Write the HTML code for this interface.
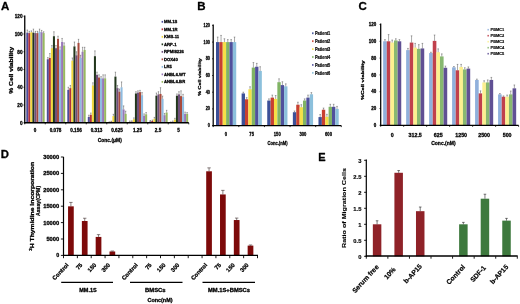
<!DOCTYPE html>
<html><head><meta charset="utf-8"><title>Figure</title>
<style>
html,body{margin:0;padding:0;background:#fff;}
body{width:520px;height:304px;overflow:hidden;font-family:"Liberation Sans",sans-serif;}
svg{display:block;filter:blur(0.4px);}
svg text{font-family:"Liberation Sans",sans-serif;}
</style></head><body>
<svg width="520" height="304" viewBox="0 0 520 304">
<rect x="0" y="0" width="520" height="304" fill="#ffffff"/>
<text x="0.00" y="0" font-size="11.5" font-weight="bold" text-anchor="start" fill="#000" transform="translate(1 9.6)" stroke="#000" stroke-width="0.3" stroke-linejoin="round">A</text>
<text x="0.00" y="0" font-size="11.5" font-weight="bold" text-anchor="start" fill="#000" transform="translate(197.3 9.8)" stroke="#000" stroke-width="0.3" stroke-linejoin="round">B</text>
<text x="0.00" y="0" font-size="11.5" font-weight="bold" text-anchor="start" fill="#000" transform="translate(358.6 9.8)" stroke="#000" stroke-width="0.3" stroke-linejoin="round">C</text>
<text x="0.00" y="0" font-size="11.3" font-weight="bold" text-anchor="start" fill="#000" transform="translate(0.8 158.2)" stroke="#000" stroke-width="0.3" stroke-linejoin="round">D</text>
<text x="0.00" y="0" font-size="11" font-weight="bold" text-anchor="start" fill="#000" transform="translate(318.2 161)" stroke="#000" stroke-width="0.3" stroke-linejoin="round">E</text>
<rect x="26.30" y="32.67" width="2.04" height="90.08" fill="#4c4c9a"/>
<line x1="27.32" y1="32.67" x2="27.32" y2="30.01" stroke="#444" stroke-width="0.45"/>
<line x1="26.62" y1="30.01" x2="28.02" y2="30.01" stroke="#444" stroke-width="0.45"/>
<rect x="28.34" y="33.11" width="2.04" height="89.64" fill="#b0303a"/>
<line x1="29.36" y1="33.11" x2="29.36" y2="31.34" stroke="#444" stroke-width="0.45"/>
<line x1="28.66" y1="31.34" x2="30.06" y2="31.34" stroke="#444" stroke-width="0.45"/>
<rect x="30.38" y="32.23" width="2.04" height="90.52" fill="#f2d93c"/>
<line x1="31.40" y1="32.23" x2="31.40" y2="30.89" stroke="#444" stroke-width="0.45"/>
<line x1="30.70" y1="30.89" x2="32.10" y2="30.89" stroke="#444" stroke-width="0.45"/>
<rect x="32.42" y="32.67" width="2.04" height="90.08" fill="#22361c"/>
<line x1="33.44" y1="32.67" x2="33.44" y2="29.12" stroke="#444" stroke-width="0.45"/>
<line x1="32.74" y1="29.12" x2="34.14" y2="29.12" stroke="#444" stroke-width="0.45"/>
<rect x="34.46" y="33.11" width="2.04" height="89.64" fill="#70507c"/>
<line x1="35.48" y1="33.11" x2="35.48" y2="31.34" stroke="#444" stroke-width="0.45"/>
<line x1="34.78" y1="31.34" x2="36.18" y2="31.34" stroke="#444" stroke-width="0.45"/>
<rect x="36.50" y="33.11" width="2.04" height="89.64" fill="#a84a3c"/>
<line x1="37.52" y1="33.11" x2="37.52" y2="31.34" stroke="#444" stroke-width="0.45"/>
<line x1="36.82" y1="31.34" x2="38.22" y2="31.34" stroke="#444" stroke-width="0.45"/>
<rect x="38.54" y="31.78" width="2.04" height="90.97" fill="#8fbce0"/>
<line x1="39.56" y1="31.78" x2="39.56" y2="29.12" stroke="#444" stroke-width="0.45"/>
<line x1="38.86" y1="29.12" x2="40.26" y2="29.12" stroke="#444" stroke-width="0.45"/>
<rect x="40.58" y="32.23" width="2.04" height="90.52" fill="#9878b8"/>
<line x1="41.60" y1="32.23" x2="41.60" y2="30.45" stroke="#444" stroke-width="0.45"/>
<line x1="40.90" y1="30.45" x2="42.30" y2="30.45" stroke="#444" stroke-width="0.45"/>
<rect x="42.62" y="33.11" width="2.04" height="89.64" fill="#98b860"/>
<line x1="43.64" y1="33.11" x2="43.64" y2="31.78" stroke="#444" stroke-width="0.45"/>
<line x1="42.94" y1="31.78" x2="44.34" y2="31.78" stroke="#444" stroke-width="0.45"/>
<rect x="46.80" y="59.29" width="2.04" height="63.46" fill="#4c4c9a"/>
<line x1="47.82" y1="59.29" x2="47.82" y2="57.52" stroke="#444" stroke-width="0.45"/>
<line x1="47.12" y1="57.52" x2="48.52" y2="57.52" stroke="#444" stroke-width="0.45"/>
<rect x="48.84" y="57.96" width="2.04" height="64.79" fill="#b0303a"/>
<line x1="49.86" y1="57.96" x2="49.86" y2="53.53" stroke="#444" stroke-width="0.45"/>
<line x1="49.16" y1="53.53" x2="50.56" y2="53.53" stroke="#444" stroke-width="0.45"/>
<rect x="50.88" y="48.20" width="2.04" height="74.55" fill="#f2d93c"/>
<line x1="51.90" y1="48.20" x2="51.90" y2="45.54" stroke="#444" stroke-width="0.45"/>
<line x1="51.20" y1="45.54" x2="52.60" y2="45.54" stroke="#444" stroke-width="0.45"/>
<rect x="52.92" y="36.22" width="2.04" height="86.53" fill="#22361c"/>
<line x1="53.94" y1="36.22" x2="53.94" y2="31.78" stroke="#444" stroke-width="0.45"/>
<line x1="53.24" y1="31.78" x2="54.64" y2="31.78" stroke="#444" stroke-width="0.45"/>
<rect x="54.96" y="48.20" width="2.04" height="74.55" fill="#70507c"/>
<line x1="55.98" y1="48.20" x2="55.98" y2="45.54" stroke="#444" stroke-width="0.45"/>
<line x1="55.28" y1="45.54" x2="56.68" y2="45.54" stroke="#444" stroke-width="0.45"/>
<rect x="57.00" y="38.88" width="2.04" height="83.87" fill="#a84a3c"/>
<line x1="58.02" y1="38.88" x2="58.02" y2="36.22" stroke="#444" stroke-width="0.45"/>
<line x1="57.32" y1="36.22" x2="58.72" y2="36.22" stroke="#444" stroke-width="0.45"/>
<rect x="59.04" y="49.53" width="2.04" height="73.22" fill="#8fbce0"/>
<line x1="60.06" y1="49.53" x2="60.06" y2="46.87" stroke="#444" stroke-width="0.45"/>
<line x1="59.36" y1="46.87" x2="60.76" y2="46.87" stroke="#444" stroke-width="0.45"/>
<rect x="61.08" y="41.99" width="2.04" height="80.76" fill="#9878b8"/>
<line x1="62.10" y1="41.99" x2="62.10" y2="38.44" stroke="#444" stroke-width="0.45"/>
<line x1="61.40" y1="38.44" x2="62.80" y2="38.44" stroke="#444" stroke-width="0.45"/>
<rect x="63.12" y="45.54" width="2.04" height="77.21" fill="#98b860"/>
<line x1="64.14" y1="45.54" x2="64.14" y2="42.88" stroke="#444" stroke-width="0.45"/>
<line x1="63.44" y1="42.88" x2="64.84" y2="42.88" stroke="#444" stroke-width="0.45"/>
<rect x="67.30" y="89.91" width="2.04" height="32.84" fill="#4c4c9a"/>
<line x1="68.32" y1="89.91" x2="68.32" y2="87.25" stroke="#444" stroke-width="0.45"/>
<line x1="67.62" y1="87.25" x2="69.02" y2="87.25" stroke="#444" stroke-width="0.45"/>
<rect x="69.34" y="88.14" width="2.04" height="34.61" fill="#b0303a"/>
<line x1="70.36" y1="88.14" x2="70.36" y2="85.48" stroke="#444" stroke-width="0.45"/>
<line x1="69.66" y1="85.48" x2="71.06" y2="85.48" stroke="#444" stroke-width="0.45"/>
<rect x="71.38" y="60.62" width="2.04" height="62.12" fill="#f2d93c"/>
<line x1="72.40" y1="60.62" x2="72.40" y2="57.96" stroke="#444" stroke-width="0.45"/>
<line x1="71.70" y1="57.96" x2="73.10" y2="57.96" stroke="#444" stroke-width="0.45"/>
<rect x="73.42" y="46.42" width="2.04" height="76.33" fill="#22361c"/>
<line x1="74.44" y1="46.42" x2="74.44" y2="41.99" stroke="#444" stroke-width="0.45"/>
<line x1="73.74" y1="41.99" x2="75.14" y2="41.99" stroke="#444" stroke-width="0.45"/>
<rect x="75.46" y="55.30" width="2.04" height="67.45" fill="#70507c"/>
<line x1="76.48" y1="55.30" x2="76.48" y2="51.75" stroke="#444" stroke-width="0.45"/>
<line x1="75.78" y1="51.75" x2="77.18" y2="51.75" stroke="#444" stroke-width="0.45"/>
<rect x="77.50" y="42.88" width="2.04" height="79.88" fill="#a84a3c"/>
<line x1="78.52" y1="42.88" x2="78.52" y2="39.33" stroke="#444" stroke-width="0.45"/>
<line x1="77.82" y1="39.33" x2="79.22" y2="39.33" stroke="#444" stroke-width="0.45"/>
<rect x="79.54" y="57.96" width="2.04" height="64.79" fill="#8fbce0"/>
<line x1="80.56" y1="57.96" x2="80.56" y2="55.30" stroke="#444" stroke-width="0.45"/>
<line x1="79.86" y1="55.30" x2="81.26" y2="55.30" stroke="#444" stroke-width="0.45"/>
<rect x="81.58" y="51.75" width="2.04" height="71.00" fill="#9878b8"/>
<line x1="82.60" y1="51.75" x2="82.60" y2="47.31" stroke="#444" stroke-width="0.45"/>
<line x1="81.90" y1="47.31" x2="83.30" y2="47.31" stroke="#444" stroke-width="0.45"/>
<rect x="83.62" y="49.98" width="2.04" height="72.77" fill="#98b860"/>
<line x1="84.64" y1="49.98" x2="84.64" y2="47.31" stroke="#444" stroke-width="0.45"/>
<line x1="83.94" y1="47.31" x2="85.34" y2="47.31" stroke="#444" stroke-width="0.45"/>
<rect x="87.80" y="116.98" width="2.04" height="5.77" fill="#4c4c9a"/>
<line x1="88.82" y1="116.98" x2="88.82" y2="115.21" stroke="#444" stroke-width="0.45"/>
<line x1="88.12" y1="115.21" x2="89.52" y2="115.21" stroke="#444" stroke-width="0.45"/>
<rect x="89.84" y="114.76" width="2.04" height="7.99" fill="#b0303a"/>
<line x1="90.86" y1="114.76" x2="90.86" y2="112.99" stroke="#444" stroke-width="0.45"/>
<line x1="90.16" y1="112.99" x2="91.56" y2="112.99" stroke="#444" stroke-width="0.45"/>
<rect x="91.88" y="85.47" width="2.04" height="37.27" fill="#f2d93c"/>
<line x1="92.90" y1="85.47" x2="92.90" y2="82.81" stroke="#444" stroke-width="0.45"/>
<line x1="92.20" y1="82.81" x2="93.60" y2="82.81" stroke="#444" stroke-width="0.45"/>
<rect x="93.92" y="56.19" width="2.04" height="66.56" fill="#22361c"/>
<line x1="94.94" y1="56.19" x2="94.94" y2="50.86" stroke="#444" stroke-width="0.45"/>
<line x1="94.24" y1="50.86" x2="95.64" y2="50.86" stroke="#444" stroke-width="0.45"/>
<rect x="95.96" y="74.83" width="2.04" height="47.92" fill="#70507c"/>
<line x1="96.98" y1="74.83" x2="96.98" y2="72.16" stroke="#444" stroke-width="0.45"/>
<line x1="96.28" y1="72.16" x2="97.68" y2="72.16" stroke="#444" stroke-width="0.45"/>
<rect x="98.00" y="77.49" width="2.04" height="45.26" fill="#a84a3c"/>
<line x1="99.02" y1="77.49" x2="99.02" y2="74.83" stroke="#444" stroke-width="0.45"/>
<line x1="98.32" y1="74.83" x2="99.72" y2="74.83" stroke="#444" stroke-width="0.45"/>
<rect x="100.04" y="78.38" width="2.04" height="44.38" fill="#8fbce0"/>
<line x1="101.06" y1="78.38" x2="101.06" y2="76.60" stroke="#444" stroke-width="0.45"/>
<line x1="100.36" y1="76.60" x2="101.76" y2="76.60" stroke="#444" stroke-width="0.45"/>
<rect x="102.08" y="78.38" width="2.04" height="44.38" fill="#9878b8"/>
<line x1="103.10" y1="78.38" x2="103.10" y2="74.83" stroke="#444" stroke-width="0.45"/>
<line x1="102.40" y1="74.83" x2="103.80" y2="74.83" stroke="#444" stroke-width="0.45"/>
<rect x="104.12" y="78.38" width="2.04" height="44.38" fill="#98b860"/>
<line x1="105.14" y1="78.38" x2="105.14" y2="74.83" stroke="#444" stroke-width="0.45"/>
<line x1="104.44" y1="74.83" x2="105.84" y2="74.83" stroke="#444" stroke-width="0.45"/>
<rect x="108.30" y="122.31" width="2.04" height="0.44" fill="#4c4c9a"/>
<line x1="109.32" y1="122.31" x2="109.32" y2="121.86" stroke="#444" stroke-width="0.45"/>
<line x1="108.62" y1="121.86" x2="110.02" y2="121.86" stroke="#444" stroke-width="0.45"/>
<rect x="110.34" y="121.69" width="2.04" height="1.06" fill="#b0303a"/>
<line x1="111.36" y1="121.69" x2="111.36" y2="121.24" stroke="#444" stroke-width="0.45"/>
<line x1="110.66" y1="121.24" x2="112.06" y2="121.24" stroke="#444" stroke-width="0.45"/>
<rect x="112.38" y="116.09" width="2.04" height="6.66" fill="#f2d93c"/>
<line x1="113.40" y1="116.09" x2="113.40" y2="114.32" stroke="#444" stroke-width="0.45"/>
<line x1="112.70" y1="114.32" x2="114.10" y2="114.32" stroke="#444" stroke-width="0.45"/>
<rect x="114.42" y="76.60" width="2.04" height="46.15" fill="#22361c"/>
<line x1="115.44" y1="76.60" x2="115.44" y2="72.16" stroke="#444" stroke-width="0.45"/>
<line x1="114.74" y1="72.16" x2="116.14" y2="72.16" stroke="#444" stroke-width="0.45"/>
<rect x="116.46" y="88.14" width="2.04" height="34.61" fill="#70507c"/>
<line x1="117.48" y1="88.14" x2="117.48" y2="85.48" stroke="#444" stroke-width="0.45"/>
<line x1="116.78" y1="85.48" x2="118.18" y2="85.48" stroke="#444" stroke-width="0.45"/>
<rect x="118.50" y="91.69" width="2.04" height="31.06" fill="#a84a3c"/>
<line x1="119.52" y1="91.69" x2="119.52" y2="89.03" stroke="#444" stroke-width="0.45"/>
<line x1="118.82" y1="89.03" x2="120.22" y2="89.03" stroke="#444" stroke-width="0.45"/>
<rect x="120.54" y="87.25" width="2.04" height="35.50" fill="#8fbce0"/>
<line x1="121.56" y1="87.25" x2="121.56" y2="81.92" stroke="#444" stroke-width="0.45"/>
<line x1="120.86" y1="81.92" x2="122.26" y2="81.92" stroke="#444" stroke-width="0.45"/>
<rect x="122.58" y="109.44" width="2.04" height="13.31" fill="#9878b8"/>
<line x1="123.60" y1="109.44" x2="123.60" y2="105.89" stroke="#444" stroke-width="0.45"/>
<line x1="122.90" y1="105.89" x2="124.30" y2="105.89" stroke="#444" stroke-width="0.45"/>
<rect x="124.62" y="113.88" width="2.04" height="8.88" fill="#98b860"/>
<line x1="125.64" y1="113.88" x2="125.64" y2="111.21" stroke="#444" stroke-width="0.45"/>
<line x1="124.94" y1="111.21" x2="126.34" y2="111.21" stroke="#444" stroke-width="0.45"/>
<rect x="128.80" y="121.86" width="2.04" height="0.89" fill="#4c4c9a"/>
<line x1="129.82" y1="121.86" x2="129.82" y2="120.97" stroke="#444" stroke-width="0.45"/>
<line x1="129.12" y1="120.97" x2="130.52" y2="120.97" stroke="#444" stroke-width="0.45"/>
<rect x="130.84" y="121.69" width="2.04" height="1.06" fill="#b0303a"/>
<line x1="131.86" y1="121.69" x2="131.86" y2="120.80" stroke="#444" stroke-width="0.45"/>
<line x1="131.16" y1="120.80" x2="132.56" y2="120.80" stroke="#444" stroke-width="0.45"/>
<rect x="132.88" y="119.20" width="2.04" height="3.55" fill="#f2d93c"/>
<line x1="133.90" y1="119.20" x2="133.90" y2="117.87" stroke="#444" stroke-width="0.45"/>
<line x1="133.20" y1="117.87" x2="134.60" y2="117.87" stroke="#444" stroke-width="0.45"/>
<rect x="134.92" y="93.46" width="2.04" height="29.29" fill="#22361c"/>
<line x1="135.94" y1="93.46" x2="135.94" y2="91.69" stroke="#444" stroke-width="0.45"/>
<line x1="135.24" y1="91.69" x2="136.64" y2="91.69" stroke="#444" stroke-width="0.45"/>
<rect x="136.96" y="92.58" width="2.04" height="30.17" fill="#70507c"/>
<line x1="137.98" y1="92.58" x2="137.98" y2="90.80" stroke="#444" stroke-width="0.45"/>
<line x1="137.28" y1="90.80" x2="138.68" y2="90.80" stroke="#444" stroke-width="0.45"/>
<rect x="139.00" y="92.13" width="2.04" height="30.62" fill="#a84a3c"/>
<line x1="140.02" y1="92.13" x2="140.02" y2="90.36" stroke="#444" stroke-width="0.45"/>
<line x1="139.32" y1="90.36" x2="140.72" y2="90.36" stroke="#444" stroke-width="0.45"/>
<rect x="141.04" y="95.24" width="2.04" height="27.51" fill="#8fbce0"/>
<line x1="142.06" y1="95.24" x2="142.06" y2="92.58" stroke="#444" stroke-width="0.45"/>
<line x1="141.36" y1="92.58" x2="142.76" y2="92.58" stroke="#444" stroke-width="0.45"/>
<rect x="143.08" y="115.65" width="2.04" height="7.10" fill="#9878b8"/>
<line x1="144.10" y1="115.65" x2="144.10" y2="113.88" stroke="#444" stroke-width="0.45"/>
<line x1="143.40" y1="113.88" x2="144.80" y2="113.88" stroke="#444" stroke-width="0.45"/>
<rect x="145.12" y="114.32" width="2.04" height="8.43" fill="#98b860"/>
<line x1="146.14" y1="114.32" x2="146.14" y2="112.54" stroke="#444" stroke-width="0.45"/>
<line x1="145.44" y1="112.54" x2="146.84" y2="112.54" stroke="#444" stroke-width="0.45"/>
<rect x="149.30" y="121.42" width="2.04" height="1.33" fill="#4c4c9a"/>
<line x1="150.32" y1="121.42" x2="150.32" y2="120.53" stroke="#444" stroke-width="0.45"/>
<line x1="149.62" y1="120.53" x2="151.02" y2="120.53" stroke="#444" stroke-width="0.45"/>
<rect x="151.34" y="120.97" width="2.04" height="1.77" fill="#b0303a"/>
<line x1="152.36" y1="120.97" x2="152.36" y2="120.09" stroke="#444" stroke-width="0.45"/>
<line x1="151.66" y1="120.09" x2="153.06" y2="120.09" stroke="#444" stroke-width="0.45"/>
<rect x="153.38" y="118.76" width="2.04" height="3.99" fill="#f2d93c"/>
<line x1="154.40" y1="118.76" x2="154.40" y2="117.42" stroke="#444" stroke-width="0.45"/>
<line x1="153.70" y1="117.42" x2="155.10" y2="117.42" stroke="#444" stroke-width="0.45"/>
<rect x="155.42" y="95.68" width="2.04" height="27.07" fill="#22361c"/>
<line x1="156.44" y1="95.68" x2="156.44" y2="93.02" stroke="#444" stroke-width="0.45"/>
<line x1="155.74" y1="93.02" x2="157.14" y2="93.02" stroke="#444" stroke-width="0.45"/>
<rect x="157.46" y="94.35" width="2.04" height="28.40" fill="#70507c"/>
<line x1="158.48" y1="94.35" x2="158.48" y2="91.69" stroke="#444" stroke-width="0.45"/>
<line x1="157.78" y1="91.69" x2="159.18" y2="91.69" stroke="#444" stroke-width="0.45"/>
<rect x="159.50" y="93.91" width="2.04" height="28.84" fill="#a84a3c"/>
<line x1="160.52" y1="93.91" x2="160.52" y2="87.69" stroke="#444" stroke-width="0.45"/>
<line x1="159.82" y1="87.69" x2="161.22" y2="87.69" stroke="#444" stroke-width="0.45"/>
<rect x="161.54" y="98.79" width="2.04" height="23.96" fill="#8fbce0"/>
<line x1="162.56" y1="98.79" x2="162.56" y2="96.12" stroke="#444" stroke-width="0.45"/>
<line x1="161.86" y1="96.12" x2="163.26" y2="96.12" stroke="#444" stroke-width="0.45"/>
<rect x="163.58" y="115.21" width="2.04" height="7.54" fill="#9878b8"/>
<line x1="164.60" y1="115.21" x2="164.60" y2="113.43" stroke="#444" stroke-width="0.45"/>
<line x1="163.90" y1="113.43" x2="165.30" y2="113.43" stroke="#444" stroke-width="0.45"/>
<rect x="165.62" y="112.54" width="2.04" height="10.21" fill="#98b860"/>
<line x1="166.64" y1="112.54" x2="166.64" y2="110.33" stroke="#444" stroke-width="0.45"/>
<line x1="165.94" y1="110.33" x2="167.34" y2="110.33" stroke="#444" stroke-width="0.45"/>
<rect x="169.80" y="122.31" width="2.04" height="0.44" fill="#4c4c9a"/>
<line x1="170.82" y1="122.31" x2="170.82" y2="121.86" stroke="#444" stroke-width="0.45"/>
<line x1="170.12" y1="121.86" x2="171.52" y2="121.86" stroke="#444" stroke-width="0.45"/>
<rect x="171.84" y="121.86" width="2.04" height="0.89" fill="#b0303a"/>
<line x1="172.86" y1="121.86" x2="172.86" y2="120.97" stroke="#444" stroke-width="0.45"/>
<line x1="172.16" y1="120.97" x2="173.56" y2="120.97" stroke="#444" stroke-width="0.45"/>
<rect x="173.88" y="119.64" width="2.04" height="3.11" fill="#f2d93c"/>
<line x1="174.90" y1="119.64" x2="174.90" y2="118.31" stroke="#444" stroke-width="0.45"/>
<line x1="174.20" y1="118.31" x2="175.60" y2="118.31" stroke="#444" stroke-width="0.45"/>
<rect x="175.92" y="95.68" width="2.04" height="27.07" fill="#22361c"/>
<line x1="176.94" y1="95.68" x2="176.94" y2="93.91" stroke="#444" stroke-width="0.45"/>
<line x1="176.24" y1="93.91" x2="177.64" y2="93.91" stroke="#444" stroke-width="0.45"/>
<rect x="177.96" y="94.35" width="2.04" height="28.40" fill="#70507c"/>
<line x1="178.98" y1="94.35" x2="178.98" y2="91.69" stroke="#444" stroke-width="0.45"/>
<line x1="178.28" y1="91.69" x2="179.68" y2="91.69" stroke="#444" stroke-width="0.45"/>
<rect x="180.00" y="96.12" width="2.04" height="26.62" fill="#a84a3c"/>
<line x1="181.02" y1="96.12" x2="181.02" y2="90.80" stroke="#444" stroke-width="0.45"/>
<line x1="180.32" y1="90.80" x2="181.72" y2="90.80" stroke="#444" stroke-width="0.45"/>
<rect x="182.04" y="97.01" width="2.04" height="25.74" fill="#8fbce0"/>
<line x1="183.06" y1="97.01" x2="183.06" y2="94.35" stroke="#444" stroke-width="0.45"/>
<line x1="182.36" y1="94.35" x2="183.76" y2="94.35" stroke="#444" stroke-width="0.45"/>
<rect x="184.08" y="113.88" width="2.04" height="8.88" fill="#9878b8"/>
<line x1="185.10" y1="113.88" x2="185.10" y2="112.10" stroke="#444" stroke-width="0.45"/>
<line x1="184.40" y1="112.10" x2="185.80" y2="112.10" stroke="#444" stroke-width="0.45"/>
<rect x="186.12" y="113.88" width="2.04" height="8.88" fill="#98b860"/>
<line x1="187.14" y1="113.88" x2="187.14" y2="112.54" stroke="#444" stroke-width="0.45"/>
<line x1="186.44" y1="112.54" x2="187.84" y2="112.54" stroke="#444" stroke-width="0.45"/>
<line x1="24.75" y1="15.40" x2="24.75" y2="123.35" stroke="#000" stroke-width="1.3"/>
<line x1="24.25" y1="122.75" x2="188.75" y2="122.75" stroke="#000" stroke-width="1.35"/>
<line x1="23.45" y1="122.75" x2="24.75" y2="122.75" stroke="#000" stroke-width="0.7"/>
<text x="0.00" y="0" font-size="4.7" font-weight="bold" text-anchor="end" fill="#000" transform="translate(22.5 124.5)" stroke="#000" stroke-width="0.28" stroke-linejoin="round">0</text>
<line x1="23.45" y1="105.00" x2="24.75" y2="105.00" stroke="#000" stroke-width="0.7"/>
<text x="0.00" y="0" font-size="4.7" font-weight="bold" text-anchor="end" fill="#000" transform="translate(22.5 106.75)" stroke="#000" stroke-width="0.28" stroke-linejoin="round">20</text>
<line x1="23.45" y1="87.25" x2="24.75" y2="87.25" stroke="#000" stroke-width="0.7"/>
<text x="0.00" y="0" font-size="4.7" font-weight="bold" text-anchor="end" fill="#000" transform="translate(22.5 89.0)" stroke="#000" stroke-width="0.28" stroke-linejoin="round">40</text>
<line x1="23.45" y1="69.50" x2="24.75" y2="69.50" stroke="#000" stroke-width="0.7"/>
<text x="0.00" y="0" font-size="4.7" font-weight="bold" text-anchor="end" fill="#000" transform="translate(22.5 71.25)" stroke="#000" stroke-width="0.28" stroke-linejoin="round">60</text>
<line x1="23.45" y1="51.75" x2="24.75" y2="51.75" stroke="#000" stroke-width="0.7"/>
<text x="0.00" y="0" font-size="4.7" font-weight="bold" text-anchor="end" fill="#000" transform="translate(22.5 53.5)" stroke="#000" stroke-width="0.28" stroke-linejoin="round">80</text>
<line x1="23.45" y1="34.00" x2="24.75" y2="34.00" stroke="#000" stroke-width="0.7"/>
<text x="0.00" y="0" font-size="4.7" font-weight="bold" text-anchor="end" fill="#000" transform="translate(22.5 35.75)" stroke="#000" stroke-width="0.28" stroke-linejoin="round">100</text>
<line x1="23.45" y1="16.25" x2="24.75" y2="16.25" stroke="#000" stroke-width="0.7"/>
<text x="0.00" y="0" font-size="4.7" font-weight="bold" text-anchor="end" fill="#000" transform="translate(22.5 18.0)" stroke="#000" stroke-width="0.28" stroke-linejoin="round">120</text>
<line x1="24.75" y1="122.75" x2="24.75" y2="124.35" stroke="#000" stroke-width="0.8"/>
<line x1="45.25" y1="122.75" x2="45.25" y2="124.35" stroke="#000" stroke-width="0.8"/>
<line x1="65.75" y1="122.75" x2="65.75" y2="124.35" stroke="#000" stroke-width="0.8"/>
<line x1="86.25" y1="122.75" x2="86.25" y2="124.35" stroke="#000" stroke-width="0.8"/>
<line x1="106.75" y1="122.75" x2="106.75" y2="124.35" stroke="#000" stroke-width="0.8"/>
<line x1="127.25" y1="122.75" x2="127.25" y2="124.35" stroke="#000" stroke-width="0.8"/>
<line x1="147.75" y1="122.75" x2="147.75" y2="124.35" stroke="#000" stroke-width="0.8"/>
<line x1="168.25" y1="122.75" x2="168.25" y2="124.35" stroke="#000" stroke-width="0.8"/>
<line x1="188.75" y1="122.75" x2="188.75" y2="124.35" stroke="#000" stroke-width="0.8"/>
<text x="0.00" y="0" font-size="4.6" font-weight="bold" text-anchor="middle" fill="#000" transform="translate(35.0 131.7)" stroke="#000" stroke-width="0.28" stroke-linejoin="round">0</text>
<text x="0.00" y="0" font-size="4.6" font-weight="bold" text-anchor="middle" fill="#000" transform="translate(55.5 131.7)" stroke="#000" stroke-width="0.28" stroke-linejoin="round">0.078</text>
<text x="0.00" y="0" font-size="4.6" font-weight="bold" text-anchor="middle" fill="#000" transform="translate(76.0 131.7)" stroke="#000" stroke-width="0.28" stroke-linejoin="round">0.156</text>
<text x="0.00" y="0" font-size="4.6" font-weight="bold" text-anchor="middle" fill="#000" transform="translate(96.5 131.7)" stroke="#000" stroke-width="0.28" stroke-linejoin="round">0.313</text>
<text x="0.00" y="0" font-size="4.6" font-weight="bold" text-anchor="middle" fill="#000" transform="translate(117.0 131.7)" stroke="#000" stroke-width="0.28" stroke-linejoin="round">0.625</text>
<text x="0.00" y="0" font-size="4.6" font-weight="bold" text-anchor="middle" fill="#000" transform="translate(137.5 131.7)" stroke="#000" stroke-width="0.28" stroke-linejoin="round">1.25</text>
<text x="0.00" y="0" font-size="4.6" font-weight="bold" text-anchor="middle" fill="#000" transform="translate(158.0 131.7)" stroke="#000" stroke-width="0.28" stroke-linejoin="round">2.5</text>
<text x="0.00" y="0" font-size="4.6" font-weight="bold" text-anchor="middle" fill="#000" transform="translate(178.5 131.7)" stroke="#000" stroke-width="0.28" stroke-linejoin="round">5</text>
<text x="-12.00" y="0" font-size="5.2" font-weight="bold" text-anchor="start" fill="#000" textLength="24" lengthAdjust="spacingAndGlyphs" transform="translate(109.8 141.7)" stroke="#000" stroke-width="0.28" stroke-linejoin="round">Conc.(μM)</text>
<text x="-23.40" y="0" font-size="5.6" font-weight="bold" text-anchor="start" fill="#000" textLength="46.8" lengthAdjust="spacingAndGlyphs" transform="translate(13.2 70.3) rotate(-90)" stroke="#000" stroke-width="0.28" stroke-linejoin="round">% Cell viability</text>
<rect x="161.60" y="20.90" width="1.50" height="1.80" fill="#4c4c9a"/>
<text x="0.00" y="0" font-size="4.2" font-weight="bold" text-anchor="start" fill="#000" transform="translate(164 23.3)" stroke="#000" stroke-width="0.28" stroke-linejoin="round">MM.1S</text>
<rect x="161.60" y="28.41" width="1.50" height="1.80" fill="#b0303a"/>
<text x="0.00" y="0" font-size="4.2" font-weight="bold" text-anchor="start" fill="#000" transform="translate(164 30.81)" stroke="#000" stroke-width="0.28" stroke-linejoin="round">MM.1R</text>
<rect x="161.60" y="35.92" width="1.50" height="1.80" fill="#f2d93c"/>
<text x="0.00" y="0" font-size="4.2" font-weight="bold" text-anchor="start" fill="#000" transform="translate(164 38.32)" stroke="#000" stroke-width="0.28" stroke-linejoin="round">KMS-11</text>
<rect x="161.60" y="43.43" width="1.50" height="1.80" fill="#22361c"/>
<text x="0.00" y="0" font-size="4.2" font-weight="bold" text-anchor="start" fill="#000" transform="translate(164 45.83)" stroke="#000" stroke-width="0.28" stroke-linejoin="round">ARP-1</text>
<rect x="161.60" y="50.94" width="1.50" height="1.80" fill="#70507c"/>
<text x="0.00" y="0" font-size="4.2" font-weight="bold" text-anchor="start" fill="#000" transform="translate(164 53.34)" stroke="#000" stroke-width="0.28" stroke-linejoin="round">RPMI8226</text>
<rect x="161.60" y="58.45" width="1.50" height="1.80" fill="#a84a3c"/>
<text x="0.00" y="0" font-size="4.2" font-weight="bold" text-anchor="start" fill="#000" transform="translate(164 60.85)" stroke="#000" stroke-width="0.28" stroke-linejoin="round">DOX40</text>
<rect x="161.60" y="65.96" width="1.50" height="1.80" fill="#8fbce0"/>
<text x="0.00" y="0" font-size="4.2" font-weight="bold" text-anchor="start" fill="#000" transform="translate(164 68.36)" stroke="#000" stroke-width="0.28" stroke-linejoin="round">LR5</text>
<rect x="161.60" y="73.47" width="1.50" height="1.80" fill="#9878b8"/>
<text x="0.00" y="0" font-size="4.2" font-weight="bold" text-anchor="start" fill="#000" transform="translate(164 75.87)" stroke="#000" stroke-width="0.28" stroke-linejoin="round">ANBL6.WT</text>
<rect x="161.60" y="80.98" width="1.50" height="1.80" fill="#98b860"/>
<text x="0.00" y="0" font-size="4.2" font-weight="bold" text-anchor="start" fill="#000" transform="translate(164 83.38)" stroke="#000" stroke-width="0.28" stroke-linejoin="round">ANBL6.BR</text>
<rect x="216.00" y="42.10" width="3.37" height="83.50" fill="#3c5098"/>
<line x1="217.69" y1="42.10" x2="217.69" y2="37.09" stroke="#444" stroke-width="0.45"/>
<line x1="216.88" y1="37.09" x2="218.49" y2="37.09" stroke="#444" stroke-width="0.45"/>
<rect x="219.37" y="42.10" width="3.37" height="83.50" fill="#c84030"/>
<line x1="221.06" y1="42.10" x2="221.06" y2="35.42" stroke="#444" stroke-width="0.45"/>
<line x1="220.25" y1="35.42" x2="221.86" y2="35.42" stroke="#444" stroke-width="0.45"/>
<rect x="222.74" y="42.10" width="3.37" height="83.50" fill="#f6e048"/>
<line x1="224.43" y1="42.10" x2="224.43" y2="38.76" stroke="#444" stroke-width="0.45"/>
<line x1="223.62" y1="38.76" x2="225.23" y2="38.76" stroke="#444" stroke-width="0.45"/>
<rect x="226.11" y="42.10" width="3.37" height="83.50" fill="#80b464"/>
<line x1="227.80" y1="42.10" x2="227.80" y2="39.60" stroke="#444" stroke-width="0.45"/>
<line x1="227.00" y1="39.60" x2="228.60" y2="39.60" stroke="#444" stroke-width="0.45"/>
<rect x="229.48" y="42.10" width="3.37" height="83.50" fill="#50509c"/>
<line x1="231.16" y1="42.10" x2="231.16" y2="39.60" stroke="#444" stroke-width="0.45"/>
<line x1="230.36" y1="39.60" x2="231.97" y2="39.60" stroke="#444" stroke-width="0.45"/>
<rect x="232.85" y="42.10" width="3.37" height="83.50" fill="#8cc0dc"/>
<line x1="234.53" y1="42.10" x2="234.53" y2="37.09" stroke="#444" stroke-width="0.45"/>
<line x1="233.73" y1="37.09" x2="235.34" y2="37.09" stroke="#444" stroke-width="0.45"/>
<rect x="241.62" y="93.45" width="3.37" height="32.15" fill="#3c5098"/>
<line x1="243.31" y1="93.45" x2="243.31" y2="92.20" stroke="#444" stroke-width="0.45"/>
<line x1="242.50" y1="92.20" x2="244.11" y2="92.20" stroke="#444" stroke-width="0.45"/>
<rect x="244.99" y="99.30" width="3.37" height="26.30" fill="#c84030"/>
<line x1="246.68" y1="99.30" x2="246.68" y2="97.63" stroke="#444" stroke-width="0.45"/>
<line x1="245.88" y1="97.63" x2="247.48" y2="97.63" stroke="#444" stroke-width="0.45"/>
<rect x="248.36" y="89.28" width="3.37" height="36.32" fill="#f6e048"/>
<line x1="250.05" y1="89.28" x2="250.05" y2="86.77" stroke="#444" stroke-width="0.45"/>
<line x1="249.25" y1="86.77" x2="250.85" y2="86.77" stroke="#444" stroke-width="0.45"/>
<rect x="251.73" y="67.57" width="3.37" height="58.03" fill="#80b464"/>
<line x1="253.42" y1="67.57" x2="253.42" y2="62.56" stroke="#444" stroke-width="0.45"/>
<line x1="252.62" y1="62.56" x2="254.22" y2="62.56" stroke="#444" stroke-width="0.45"/>
<rect x="255.10" y="66.73" width="3.37" height="58.87" fill="#50509c"/>
<line x1="256.78" y1="66.73" x2="256.78" y2="63.39" stroke="#444" stroke-width="0.45"/>
<line x1="255.98" y1="63.39" x2="257.58" y2="63.39" stroke="#444" stroke-width="0.45"/>
<rect x="258.47" y="70.91" width="3.37" height="54.69" fill="#8cc0dc"/>
<line x1="260.16" y1="70.91" x2="260.16" y2="66.73" stroke="#444" stroke-width="0.45"/>
<line x1="259.36" y1="66.73" x2="260.96" y2="66.73" stroke="#444" stroke-width="0.45"/>
<rect x="267.24" y="100.55" width="3.37" height="25.05" fill="#3c5098"/>
<line x1="268.93" y1="100.55" x2="268.93" y2="98.88" stroke="#444" stroke-width="0.45"/>
<line x1="268.12" y1="98.88" x2="269.73" y2="98.88" stroke="#444" stroke-width="0.45"/>
<rect x="270.61" y="97.63" width="3.37" height="27.97" fill="#c84030"/>
<line x1="272.30" y1="97.63" x2="272.30" y2="95.12" stroke="#444" stroke-width="0.45"/>
<line x1="271.50" y1="95.12" x2="273.10" y2="95.12" stroke="#444" stroke-width="0.45"/>
<rect x="273.98" y="98.88" width="3.37" height="26.72" fill="#f6e048"/>
<line x1="275.67" y1="98.88" x2="275.67" y2="95.54" stroke="#444" stroke-width="0.45"/>
<line x1="274.87" y1="95.54" x2="276.47" y2="95.54" stroke="#444" stroke-width="0.45"/>
<rect x="277.35" y="82.18" width="3.37" height="43.42" fill="#80b464"/>
<line x1="279.04" y1="82.18" x2="279.04" y2="78.84" stroke="#444" stroke-width="0.45"/>
<line x1="278.24" y1="78.84" x2="279.84" y2="78.84" stroke="#444" stroke-width="0.45"/>
<rect x="280.72" y="85.10" width="3.37" height="40.50" fill="#50509c"/>
<line x1="282.41" y1="85.10" x2="282.41" y2="81.76" stroke="#444" stroke-width="0.45"/>
<line x1="281.61" y1="81.76" x2="283.21" y2="81.76" stroke="#444" stroke-width="0.45"/>
<rect x="284.09" y="86.36" width="3.37" height="39.24" fill="#8cc0dc"/>
<line x1="285.78" y1="86.36" x2="285.78" y2="83.85" stroke="#444" stroke-width="0.45"/>
<line x1="284.98" y1="83.85" x2="286.58" y2="83.85" stroke="#444" stroke-width="0.45"/>
<rect x="292.86" y="112.24" width="3.37" height="13.36" fill="#3c5098"/>
<line x1="294.55" y1="112.24" x2="294.55" y2="110.99" stroke="#444" stroke-width="0.45"/>
<line x1="293.75" y1="110.99" x2="295.35" y2="110.99" stroke="#444" stroke-width="0.45"/>
<rect x="296.23" y="104.72" width="3.37" height="20.87" fill="#c84030"/>
<line x1="297.92" y1="104.72" x2="297.92" y2="102.22" stroke="#444" stroke-width="0.45"/>
<line x1="297.12" y1="102.22" x2="298.72" y2="102.22" stroke="#444" stroke-width="0.45"/>
<rect x="299.60" y="107.23" width="3.37" height="18.37" fill="#f6e048"/>
<line x1="301.29" y1="107.23" x2="301.29" y2="104.72" stroke="#444" stroke-width="0.45"/>
<line x1="300.49" y1="104.72" x2="302.09" y2="104.72" stroke="#444" stroke-width="0.45"/>
<rect x="302.97" y="100.55" width="3.37" height="25.05" fill="#80b464"/>
<line x1="304.66" y1="100.55" x2="304.66" y2="98.88" stroke="#444" stroke-width="0.45"/>
<line x1="303.86" y1="98.88" x2="305.46" y2="98.88" stroke="#444" stroke-width="0.45"/>
<rect x="306.34" y="97.63" width="3.37" height="27.97" fill="#50509c"/>
<line x1="308.03" y1="97.63" x2="308.03" y2="95.12" stroke="#444" stroke-width="0.45"/>
<line x1="307.23" y1="95.12" x2="308.83" y2="95.12" stroke="#444" stroke-width="0.45"/>
<rect x="309.71" y="94.29" width="3.37" height="31.31" fill="#8cc0dc"/>
<line x1="311.40" y1="94.29" x2="311.40" y2="92.62" stroke="#444" stroke-width="0.45"/>
<line x1="310.60" y1="92.62" x2="312.20" y2="92.62" stroke="#444" stroke-width="0.45"/>
<rect x="318.48" y="117.08" width="3.37" height="8.52" fill="#3c5098"/>
<line x1="320.17" y1="117.08" x2="320.17" y2="114.58" stroke="#444" stroke-width="0.45"/>
<line x1="319.37" y1="114.58" x2="320.97" y2="114.58" stroke="#444" stroke-width="0.45"/>
<rect x="321.85" y="109.73" width="3.37" height="15.86" fill="#c84030"/>
<line x1="323.54" y1="109.73" x2="323.54" y2="108.06" stroke="#444" stroke-width="0.45"/>
<line x1="322.74" y1="108.06" x2="324.34" y2="108.06" stroke="#444" stroke-width="0.45"/>
<rect x="325.22" y="116.83" width="3.37" height="8.77" fill="#f6e048"/>
<line x1="326.91" y1="116.83" x2="326.91" y2="114.33" stroke="#444" stroke-width="0.45"/>
<line x1="326.11" y1="114.33" x2="327.71" y2="114.33" stroke="#444" stroke-width="0.45"/>
<rect x="328.59" y="106.81" width="3.37" height="18.79" fill="#80b464"/>
<line x1="330.28" y1="106.81" x2="330.28" y2="104.31" stroke="#444" stroke-width="0.45"/>
<line x1="329.48" y1="104.31" x2="331.08" y2="104.31" stroke="#444" stroke-width="0.45"/>
<rect x="331.96" y="106.81" width="3.37" height="18.79" fill="#50509c"/>
<line x1="333.65" y1="106.81" x2="333.65" y2="104.31" stroke="#444" stroke-width="0.45"/>
<line x1="332.85" y1="104.31" x2="334.45" y2="104.31" stroke="#444" stroke-width="0.45"/>
<rect x="335.33" y="108.90" width="3.37" height="16.70" fill="#8cc0dc"/>
<line x1="337.02" y1="108.90" x2="337.02" y2="106.40" stroke="#444" stroke-width="0.45"/>
<line x1="336.22" y1="106.40" x2="337.82" y2="106.40" stroke="#444" stroke-width="0.45"/>
<line x1="213.20" y1="24.40" x2="213.20" y2="126.20" stroke="#000" stroke-width="1.25"/>
<line x1="212.70" y1="125.60" x2="341.30" y2="125.60" stroke="#000" stroke-width="1.3"/>
<line x1="212.00" y1="125.60" x2="213.20" y2="125.60" stroke="#000" stroke-width="0.7"/>
<text x="-2.15" y="0" font-size="4.8" font-weight="bold" text-anchor="start" fill="#000" textLength="2.15" lengthAdjust="spacingAndGlyphs" transform="translate(210.0 127.0)" stroke="#000" stroke-width="0.28" stroke-linejoin="round">0</text>
<line x1="212.00" y1="108.90" x2="213.20" y2="108.90" stroke="#000" stroke-width="0.7"/>
<text x="-4.30" y="0" font-size="4.8" font-weight="bold" text-anchor="start" fill="#000" textLength="4.3" lengthAdjust="spacingAndGlyphs" transform="translate(210.0 110.3)" stroke="#000" stroke-width="0.28" stroke-linejoin="round">20</text>
<line x1="212.00" y1="92.20" x2="213.20" y2="92.20" stroke="#000" stroke-width="0.7"/>
<text x="-4.30" y="0" font-size="4.8" font-weight="bold" text-anchor="start" fill="#000" textLength="4.3" lengthAdjust="spacingAndGlyphs" transform="translate(210.0 93.6)" stroke="#000" stroke-width="0.28" stroke-linejoin="round">40</text>
<line x1="212.00" y1="75.50" x2="213.20" y2="75.50" stroke="#000" stroke-width="0.7"/>
<text x="-4.30" y="0" font-size="4.8" font-weight="bold" text-anchor="start" fill="#000" textLength="4.3" lengthAdjust="spacingAndGlyphs" transform="translate(210.0 76.9)" stroke="#000" stroke-width="0.28" stroke-linejoin="round">60</text>
<line x1="212.00" y1="58.80" x2="213.20" y2="58.80" stroke="#000" stroke-width="0.7"/>
<text x="-4.30" y="0" font-size="4.8" font-weight="bold" text-anchor="start" fill="#000" textLength="4.3" lengthAdjust="spacingAndGlyphs" transform="translate(210.0 60.2)" stroke="#000" stroke-width="0.28" stroke-linejoin="round">80</text>
<line x1="212.00" y1="42.10" x2="213.20" y2="42.10" stroke="#000" stroke-width="0.7"/>
<text x="-6.45" y="0" font-size="4.8" font-weight="bold" text-anchor="start" fill="#000" textLength="6.45" lengthAdjust="spacingAndGlyphs" transform="translate(210.0 43.5)" stroke="#000" stroke-width="0.28" stroke-linejoin="round">100</text>
<line x1="212.00" y1="25.40" x2="213.20" y2="25.40" stroke="#000" stroke-width="0.7"/>
<text x="-6.45" y="0" font-size="4.8" font-weight="bold" text-anchor="start" fill="#000" textLength="6.45" lengthAdjust="spacingAndGlyphs" transform="translate(210.0 26.8)" stroke="#000" stroke-width="0.28" stroke-linejoin="round">120</text>
<line x1="213.20" y1="125.60" x2="213.20" y2="127.10" stroke="#000" stroke-width="0.8"/>
<line x1="238.82" y1="125.60" x2="238.82" y2="127.10" stroke="#000" stroke-width="0.8"/>
<line x1="264.44" y1="125.60" x2="264.44" y2="127.10" stroke="#000" stroke-width="0.8"/>
<line x1="290.06" y1="125.60" x2="290.06" y2="127.10" stroke="#000" stroke-width="0.8"/>
<line x1="315.68" y1="125.60" x2="315.68" y2="127.10" stroke="#000" stroke-width="0.8"/>
<line x1="341.30" y1="125.60" x2="341.30" y2="127.10" stroke="#000" stroke-width="0.8"/>
<text x="-1.15" y="0" font-size="5.0" font-weight="bold" text-anchor="start" fill="#000" textLength="2.3" lengthAdjust="spacingAndGlyphs" transform="translate(226.01 136.0)" stroke="#000" stroke-width="0.28" stroke-linejoin="round">0</text>
<text x="-2.30" y="0" font-size="5.0" font-weight="bold" text-anchor="start" fill="#000" textLength="4.6" lengthAdjust="spacingAndGlyphs" transform="translate(251.63 136.0)" stroke="#000" stroke-width="0.28" stroke-linejoin="round">75</text>
<text x="-3.45" y="0" font-size="5.0" font-weight="bold" text-anchor="start" fill="#000" textLength="6.9" lengthAdjust="spacingAndGlyphs" transform="translate(277.25 136.0)" stroke="#000" stroke-width="0.28" stroke-linejoin="round">150</text>
<text x="-3.45" y="0" font-size="5.0" font-weight="bold" text-anchor="start" fill="#000" textLength="6.9" lengthAdjust="spacingAndGlyphs" transform="translate(302.87 136.0)" stroke="#000" stroke-width="0.28" stroke-linejoin="round">300</text>
<text x="-3.45" y="0" font-size="5.0" font-weight="bold" text-anchor="start" fill="#000" textLength="6.9" lengthAdjust="spacingAndGlyphs" transform="translate(328.49 136.0)" stroke="#000" stroke-width="0.28" stroke-linejoin="round">600</text>
<text x="-10.00" y="0" font-size="5.0" font-weight="bold" text-anchor="start" fill="#000" textLength="20" lengthAdjust="spacingAndGlyphs" transform="translate(277.5 145.1)" stroke="#000" stroke-width="0.28" stroke-linejoin="round">Conc.(nM)</text>
<text x="-18.75" y="0" font-size="4.4" font-weight="bold" text-anchor="start" fill="#000" textLength="37.5" lengthAdjust="spacingAndGlyphs" transform="translate(201.3 76.9) rotate(-90)" stroke="#000" stroke-width="0.28" stroke-linejoin="round">% Cell viability</text>
<rect x="312.10" y="32.35" width="1.40" height="1.80" fill="#3c5098"/>
<text x="0.00" y="0" font-size="5.1" font-weight="bold" text-anchor="start" fill="#000" textLength="15.3" lengthAdjust="spacingAndGlyphs" transform="translate(315 35.05)" stroke="#000" stroke-width="0.2" stroke-linejoin="round">Patient1</text>
<rect x="312.10" y="40.27" width="1.40" height="1.80" fill="#c84030"/>
<text x="0.00" y="0" font-size="5.1" font-weight="bold" text-anchor="start" fill="#000" textLength="15.3" lengthAdjust="spacingAndGlyphs" transform="translate(315 42.97)" stroke="#000" stroke-width="0.2" stroke-linejoin="round">Patient2</text>
<rect x="312.10" y="48.19" width="1.40" height="1.80" fill="#f6e048"/>
<text x="0.00" y="0" font-size="5.1" font-weight="bold" text-anchor="start" fill="#000" textLength="15.3" lengthAdjust="spacingAndGlyphs" transform="translate(315 50.89)" stroke="#000" stroke-width="0.2" stroke-linejoin="round">Patient3</text>
<rect x="312.10" y="56.11" width="1.40" height="1.80" fill="#80b464"/>
<text x="0.00" y="0" font-size="5.1" font-weight="bold" text-anchor="start" fill="#000" textLength="15.3" lengthAdjust="spacingAndGlyphs" transform="translate(315 58.81)" stroke="#000" stroke-width="0.2" stroke-linejoin="round">Patient4</text>
<rect x="312.10" y="64.03" width="1.40" height="1.80" fill="#50509c"/>
<text x="0.00" y="0" font-size="5.1" font-weight="bold" text-anchor="start" fill="#000" textLength="15.3" lengthAdjust="spacingAndGlyphs" transform="translate(315 66.73)" stroke="#000" stroke-width="0.2" stroke-linejoin="round">Patient5</text>
<rect x="312.10" y="71.95" width="1.40" height="1.80" fill="#8cc0dc"/>
<text x="0.00" y="0" font-size="5.1" font-weight="bold" text-anchor="start" fill="#000" textLength="15.3" lengthAdjust="spacingAndGlyphs" transform="translate(315 74.65)" stroke="#000" stroke-width="0.2" stroke-linejoin="round">Patient6</text>
<rect x="383.15" y="41.30" width="3.62" height="84.00" fill="#90b0dc"/>
<line x1="384.96" y1="41.30" x2="384.96" y2="39.62" stroke="#444" stroke-width="0.45"/>
<line x1="384.16" y1="39.62" x2="385.76" y2="39.62" stroke="#444" stroke-width="0.45"/>
<rect x="386.77" y="41.30" width="3.62" height="84.00" fill="#c0404c"/>
<line x1="388.58" y1="41.30" x2="388.58" y2="34.58" stroke="#444" stroke-width="0.45"/>
<line x1="387.78" y1="34.58" x2="389.38" y2="34.58" stroke="#444" stroke-width="0.45"/>
<rect x="390.39" y="42.56" width="3.62" height="82.74" fill="#fcf090"/>
<line x1="392.20" y1="42.56" x2="392.20" y2="40.04" stroke="#444" stroke-width="0.45"/>
<line x1="391.40" y1="40.04" x2="393.00" y2="40.04" stroke="#444" stroke-width="0.45"/>
<rect x="394.01" y="40.46" width="3.62" height="84.84" fill="#88b870"/>
<line x1="395.82" y1="40.46" x2="395.82" y2="38.78" stroke="#444" stroke-width="0.45"/>
<line x1="395.02" y1="38.78" x2="396.62" y2="38.78" stroke="#444" stroke-width="0.45"/>
<rect x="397.63" y="41.30" width="3.62" height="84.00" fill="#605094"/>
<line x1="399.44" y1="41.30" x2="399.44" y2="39.62" stroke="#444" stroke-width="0.45"/>
<line x1="398.64" y1="39.62" x2="400.24" y2="39.62" stroke="#444" stroke-width="0.45"/>
<rect x="406.13" y="50.12" width="3.62" height="75.18" fill="#90b0dc"/>
<line x1="407.94" y1="50.12" x2="407.94" y2="48.44" stroke="#444" stroke-width="0.45"/>
<line x1="407.14" y1="48.44" x2="408.74" y2="48.44" stroke="#444" stroke-width="0.45"/>
<rect x="409.75" y="42.56" width="3.62" height="82.74" fill="#c0404c"/>
<line x1="411.56" y1="42.56" x2="411.56" y2="35.84" stroke="#444" stroke-width="0.45"/>
<line x1="410.76" y1="35.84" x2="412.36" y2="35.84" stroke="#444" stroke-width="0.45"/>
<rect x="413.37" y="47.60" width="3.62" height="77.70" fill="#fcf090"/>
<line x1="415.18" y1="47.60" x2="415.18" y2="43.40" stroke="#444" stroke-width="0.45"/>
<line x1="414.38" y1="43.40" x2="415.98" y2="43.40" stroke="#444" stroke-width="0.45"/>
<rect x="416.99" y="48.86" width="3.62" height="76.44" fill="#88b870"/>
<line x1="418.80" y1="48.86" x2="418.80" y2="44.66" stroke="#444" stroke-width="0.45"/>
<line x1="418.00" y1="44.66" x2="419.60" y2="44.66" stroke="#444" stroke-width="0.45"/>
<rect x="420.61" y="48.44" width="3.62" height="76.86" fill="#605094"/>
<line x1="422.42" y1="48.44" x2="422.42" y2="43.40" stroke="#444" stroke-width="0.45"/>
<line x1="421.62" y1="43.40" x2="423.22" y2="43.40" stroke="#444" stroke-width="0.45"/>
<rect x="429.12" y="53.06" width="3.62" height="72.24" fill="#90b0dc"/>
<line x1="430.93" y1="53.06" x2="430.93" y2="52.22" stroke="#444" stroke-width="0.45"/>
<line x1="430.13" y1="52.22" x2="431.73" y2="52.22" stroke="#444" stroke-width="0.45"/>
<rect x="432.74" y="40.88" width="3.62" height="84.42" fill="#c0404c"/>
<line x1="434.55" y1="40.88" x2="434.55" y2="35.00" stroke="#444" stroke-width="0.45"/>
<line x1="433.75" y1="35.00" x2="435.35" y2="35.00" stroke="#444" stroke-width="0.45"/>
<rect x="436.36" y="52.22" width="3.62" height="73.08" fill="#fcf090"/>
<line x1="438.17" y1="52.22" x2="438.17" y2="48.86" stroke="#444" stroke-width="0.45"/>
<line x1="437.37" y1="48.86" x2="438.97" y2="48.86" stroke="#444" stroke-width="0.45"/>
<rect x="439.98" y="56.42" width="3.62" height="68.88" fill="#88b870"/>
<line x1="441.79" y1="56.42" x2="441.79" y2="53.90" stroke="#444" stroke-width="0.45"/>
<line x1="440.99" y1="53.90" x2="442.59" y2="53.90" stroke="#444" stroke-width="0.45"/>
<rect x="443.60" y="67.76" width="3.62" height="57.54" fill="#605094"/>
<line x1="445.41" y1="67.76" x2="445.41" y2="66.08" stroke="#444" stroke-width="0.45"/>
<line x1="444.61" y1="66.08" x2="446.21" y2="66.08" stroke="#444" stroke-width="0.45"/>
<rect x="452.10" y="67.34" width="3.62" height="57.96" fill="#90b0dc"/>
<line x1="453.91" y1="67.34" x2="453.91" y2="66.50" stroke="#444" stroke-width="0.45"/>
<line x1="453.11" y1="66.50" x2="454.71" y2="66.50" stroke="#444" stroke-width="0.45"/>
<rect x="455.72" y="70.28" width="3.62" height="55.02" fill="#c0404c"/>
<line x1="457.53" y1="70.28" x2="457.53" y2="64.40" stroke="#444" stroke-width="0.45"/>
<line x1="456.73" y1="64.40" x2="458.33" y2="64.40" stroke="#444" stroke-width="0.45"/>
<rect x="459.34" y="66.92" width="3.62" height="58.38" fill="#fcf090"/>
<line x1="461.15" y1="66.92" x2="461.15" y2="64.40" stroke="#444" stroke-width="0.45"/>
<line x1="460.35" y1="64.40" x2="461.95" y2="64.40" stroke="#444" stroke-width="0.45"/>
<rect x="462.96" y="69.44" width="3.62" height="55.86" fill="#88b870"/>
<line x1="464.77" y1="69.44" x2="464.77" y2="67.76" stroke="#444" stroke-width="0.45"/>
<line x1="463.97" y1="67.76" x2="465.57" y2="67.76" stroke="#444" stroke-width="0.45"/>
<rect x="466.58" y="68.60" width="3.62" height="56.70" fill="#605094"/>
<line x1="468.39" y1="68.60" x2="468.39" y2="66.92" stroke="#444" stroke-width="0.45"/>
<line x1="467.59" y1="66.92" x2="469.19" y2="66.92" stroke="#444" stroke-width="0.45"/>
<rect x="475.08" y="79.94" width="3.62" height="45.36" fill="#90b0dc"/>
<line x1="476.89" y1="79.94" x2="476.89" y2="79.10" stroke="#444" stroke-width="0.45"/>
<line x1="476.09" y1="79.10" x2="477.69" y2="79.10" stroke="#444" stroke-width="0.45"/>
<rect x="478.70" y="93.38" width="3.62" height="31.92" fill="#c0404c"/>
<line x1="480.51" y1="93.38" x2="480.51" y2="90.86" stroke="#444" stroke-width="0.45"/>
<line x1="479.71" y1="90.86" x2="481.31" y2="90.86" stroke="#444" stroke-width="0.45"/>
<rect x="482.32" y="82.46" width="3.62" height="42.84" fill="#fcf090"/>
<line x1="484.13" y1="82.46" x2="484.13" y2="80.78" stroke="#444" stroke-width="0.45"/>
<line x1="483.33" y1="80.78" x2="484.93" y2="80.78" stroke="#444" stroke-width="0.45"/>
<rect x="485.94" y="82.46" width="3.62" height="42.84" fill="#88b870"/>
<line x1="487.75" y1="82.46" x2="487.75" y2="79.94" stroke="#444" stroke-width="0.45"/>
<line x1="486.95" y1="79.94" x2="488.55" y2="79.94" stroke="#444" stroke-width="0.45"/>
<rect x="489.56" y="79.94" width="3.62" height="45.36" fill="#605094"/>
<line x1="491.37" y1="79.94" x2="491.37" y2="77.42" stroke="#444" stroke-width="0.45"/>
<line x1="490.57" y1="77.42" x2="492.17" y2="77.42" stroke="#444" stroke-width="0.45"/>
<rect x="498.07" y="94.39" width="3.62" height="30.91" fill="#90b0dc"/>
<line x1="499.88" y1="94.39" x2="499.88" y2="93.55" stroke="#444" stroke-width="0.45"/>
<line x1="499.08" y1="93.55" x2="500.68" y2="93.55" stroke="#444" stroke-width="0.45"/>
<rect x="501.69" y="96.74" width="3.62" height="28.56" fill="#c0404c"/>
<line x1="503.50" y1="96.74" x2="503.50" y2="95.90" stroke="#444" stroke-width="0.45"/>
<line x1="502.70" y1="95.90" x2="504.30" y2="95.90" stroke="#444" stroke-width="0.45"/>
<rect x="505.31" y="96.74" width="3.62" height="28.56" fill="#fcf090"/>
<line x1="507.12" y1="96.74" x2="507.12" y2="95.06" stroke="#444" stroke-width="0.45"/>
<line x1="506.32" y1="95.06" x2="507.92" y2="95.06" stroke="#444" stroke-width="0.45"/>
<rect x="508.93" y="94.39" width="3.62" height="30.91" fill="#88b870"/>
<line x1="510.74" y1="94.39" x2="510.74" y2="91.03" stroke="#444" stroke-width="0.45"/>
<line x1="509.94" y1="91.03" x2="511.54" y2="91.03" stroke="#444" stroke-width="0.45"/>
<rect x="512.55" y="88.34" width="3.62" height="36.96" fill="#605094"/>
<line x1="514.36" y1="88.34" x2="514.36" y2="84.98" stroke="#444" stroke-width="0.45"/>
<line x1="513.56" y1="84.98" x2="515.16" y2="84.98" stroke="#444" stroke-width="0.45"/>
<line x1="380.70" y1="23.50" x2="380.70" y2="125.90" stroke="#000" stroke-width="1.25"/>
<line x1="380.20" y1="125.30" x2="518.60" y2="125.30" stroke="#000" stroke-width="1.3"/>
<line x1="379.50" y1="125.30" x2="380.70" y2="125.30" stroke="#000" stroke-width="0.7"/>
<text x="0.00" y="0" font-size="4.5" font-weight="bold" text-anchor="end" fill="#000" transform="translate(376.2 126.9)" stroke="#000" stroke-width="0.28" stroke-linejoin="round">0</text>
<line x1="379.50" y1="108.50" x2="380.70" y2="108.50" stroke="#000" stroke-width="0.7"/>
<text x="0.00" y="0" font-size="4.5" font-weight="bold" text-anchor="end" fill="#000" transform="translate(376.2 110.1)" stroke="#000" stroke-width="0.28" stroke-linejoin="round">20</text>
<line x1="379.50" y1="91.70" x2="380.70" y2="91.70" stroke="#000" stroke-width="0.7"/>
<text x="0.00" y="0" font-size="4.5" font-weight="bold" text-anchor="end" fill="#000" transform="translate(376.2 93.3)" stroke="#000" stroke-width="0.28" stroke-linejoin="round">40</text>
<line x1="379.50" y1="74.90" x2="380.70" y2="74.90" stroke="#000" stroke-width="0.7"/>
<text x="0.00" y="0" font-size="4.5" font-weight="bold" text-anchor="end" fill="#000" transform="translate(376.2 76.5)" stroke="#000" stroke-width="0.28" stroke-linejoin="round">60</text>
<line x1="379.50" y1="58.10" x2="380.70" y2="58.10" stroke="#000" stroke-width="0.7"/>
<text x="0.00" y="0" font-size="4.5" font-weight="bold" text-anchor="end" fill="#000" transform="translate(376.2 59.7)" stroke="#000" stroke-width="0.28" stroke-linejoin="round">80</text>
<line x1="379.50" y1="41.30" x2="380.70" y2="41.30" stroke="#000" stroke-width="0.7"/>
<text x="0.00" y="0" font-size="4.5" font-weight="bold" text-anchor="end" fill="#000" transform="translate(376.2 42.9)" stroke="#000" stroke-width="0.28" stroke-linejoin="round">100</text>
<line x1="379.50" y1="24.50" x2="380.70" y2="24.50" stroke="#000" stroke-width="0.7"/>
<text x="0.00" y="0" font-size="4.5" font-weight="bold" text-anchor="end" fill="#000" transform="translate(376.2 26.1)" stroke="#000" stroke-width="0.28" stroke-linejoin="round">120</text>
<line x1="380.70" y1="125.30" x2="380.70" y2="126.80" stroke="#000" stroke-width="0.8"/>
<line x1="403.68" y1="125.30" x2="403.68" y2="126.80" stroke="#000" stroke-width="0.8"/>
<line x1="426.67" y1="125.30" x2="426.67" y2="126.80" stroke="#000" stroke-width="0.8"/>
<line x1="449.65" y1="125.30" x2="449.65" y2="126.80" stroke="#000" stroke-width="0.8"/>
<line x1="472.63" y1="125.30" x2="472.63" y2="126.80" stroke="#000" stroke-width="0.8"/>
<line x1="495.62" y1="125.30" x2="495.62" y2="126.80" stroke="#000" stroke-width="0.8"/>
<line x1="518.60" y1="125.30" x2="518.60" y2="126.80" stroke="#000" stroke-width="0.8"/>
<text x="0.00" y="0" font-size="5.3" font-weight="bold" text-anchor="middle" fill="#000" transform="translate(392.19 136.6)" stroke="#000" stroke-width="0.28" stroke-linejoin="round">0</text>
<text x="0.00" y="0" font-size="5.3" font-weight="bold" text-anchor="middle" fill="#000" transform="translate(415.18 136.6)" stroke="#000" stroke-width="0.28" stroke-linejoin="round">312.5</text>
<text x="0.00" y="0" font-size="5.3" font-weight="bold" text-anchor="middle" fill="#000" transform="translate(438.16 136.6)" stroke="#000" stroke-width="0.28" stroke-linejoin="round">625</text>
<text x="0.00" y="0" font-size="5.3" font-weight="bold" text-anchor="middle" fill="#000" transform="translate(461.14 136.6)" stroke="#000" stroke-width="0.28" stroke-linejoin="round">1250</text>
<text x="0.00" y="0" font-size="5.3" font-weight="bold" text-anchor="middle" fill="#000" transform="translate(484.12 136.6)" stroke="#000" stroke-width="0.28" stroke-linejoin="round">2500</text>
<text x="0.00" y="0" font-size="5.3" font-weight="bold" text-anchor="middle" fill="#000" transform="translate(507.11 136.6)" stroke="#000" stroke-width="0.28" stroke-linejoin="round">500</text>
<text x="-12.20" y="0" font-size="5.3" font-weight="bold" text-anchor="start" fill="#000" textLength="24.4" lengthAdjust="spacingAndGlyphs" transform="translate(443.4 145.3)" stroke="#000" stroke-width="0.28" stroke-linejoin="round">Conc.(nM)</text>
<text x="-19.70" y="0" font-size="4.4" font-weight="bold" text-anchor="start" fill="#000" textLength="39.4" lengthAdjust="spacingAndGlyphs" transform="translate(364.4 80.3) rotate(-90)" stroke="#000" stroke-width="0.28" stroke-linejoin="round">%Cell viability</text>
<rect x="487.50" y="28.90" width="1.30" height="1.60" fill="#90b0dc"/>
<text x="0.00" y="0" font-size="4.1" font-weight="bold" text-anchor="start" fill="#000" textLength="13.8" lengthAdjust="spacingAndGlyphs" transform="translate(490.5 31.15)" stroke="#000" stroke-width="0.15" stroke-linejoin="round">PBMC1</text>
<rect x="487.50" y="34.90" width="1.30" height="1.60" fill="#c0404c"/>
<text x="0.00" y="0" font-size="4.1" font-weight="bold" text-anchor="start" fill="#000" textLength="13.8" lengthAdjust="spacingAndGlyphs" transform="translate(490.5 37.15)" stroke="#000" stroke-width="0.15" stroke-linejoin="round">PBMC2</text>
<rect x="487.50" y="40.90" width="1.30" height="1.60" fill="#fcf090"/>
<text x="0.00" y="0" font-size="4.1" font-weight="bold" text-anchor="start" fill="#000" textLength="13.8" lengthAdjust="spacingAndGlyphs" transform="translate(490.5 43.15)" stroke="#000" stroke-width="0.15" stroke-linejoin="round">PBMC3</text>
<rect x="487.50" y="46.90" width="1.30" height="1.60" fill="#88b870"/>
<text x="0.00" y="0" font-size="4.1" font-weight="bold" text-anchor="start" fill="#000" textLength="13.8" lengthAdjust="spacingAndGlyphs" transform="translate(490.5 49.15)" stroke="#000" stroke-width="0.15" stroke-linejoin="round">PBMC4</text>
<rect x="487.50" y="52.90" width="1.30" height="1.60" fill="#605094"/>
<text x="0.00" y="0" font-size="4.1" font-weight="bold" text-anchor="start" fill="#000" textLength="13.8" lengthAdjust="spacingAndGlyphs" transform="translate(490.5 55.15)" stroke="#000" stroke-width="0.15" stroke-linejoin="round">PBMC5</text>
<rect x="68.05" y="206.34" width="5.70" height="49.06" fill="#7d0a0a"/>
<line x1="70.90" y1="206.34" x2="70.90" y2="202.42" stroke="#3a2a2a" stroke-width="0.6"/>
<line x1="69.20" y1="202.42" x2="72.60" y2="202.42" stroke="#3a2a2a" stroke-width="0.6"/>
<rect x="81.87" y="221.01" width="5.70" height="34.39" fill="#7d0a0a"/>
<line x1="84.72" y1="221.01" x2="84.72" y2="218.24" stroke="#3a2a2a" stroke-width="0.6"/>
<line x1="83.02" y1="218.24" x2="86.42" y2="218.24" stroke="#3a2a2a" stroke-width="0.6"/>
<rect x="95.68" y="236.92" width="5.70" height="18.48" fill="#7d0a0a"/>
<line x1="98.53" y1="236.92" x2="98.53" y2="234.63" stroke="#3a2a2a" stroke-width="0.6"/>
<line x1="96.83" y1="234.63" x2="100.23" y2="234.63" stroke="#3a2a2a" stroke-width="0.6"/>
<rect x="109.50" y="251.49" width="5.70" height="3.91" fill="#7d0a0a"/>
<line x1="112.34" y1="251.49" x2="112.34" y2="251.00" stroke="#3a2a2a" stroke-width="0.6"/>
<line x1="110.64" y1="251.00" x2="114.05" y2="251.00" stroke="#3a2a2a" stroke-width="0.6"/>
<rect x="137.13" y="255.11" width="5.70" height="0.29" fill="#7d0a0a"/>
<rect x="150.94" y="255.17" width="5.70" height="0.23" fill="#7d0a0a"/>
<rect x="164.76" y="255.17" width="5.70" height="0.23" fill="#7d0a0a"/>
<rect x="178.57" y="255.24" width="5.70" height="0.16" fill="#7d0a0a"/>
<rect x="206.20" y="171.29" width="5.70" height="84.11" fill="#7d0a0a"/>
<line x1="209.05" y1="171.29" x2="209.05" y2="167.87" stroke="#3a2a2a" stroke-width="0.6"/>
<line x1="207.35" y1="167.87" x2="210.75" y2="167.87" stroke="#3a2a2a" stroke-width="0.6"/>
<rect x="220.02" y="194.44" width="5.70" height="60.96" fill="#7d0a0a"/>
<line x1="222.87" y1="194.44" x2="222.87" y2="190.36" stroke="#3a2a2a" stroke-width="0.6"/>
<line x1="221.17" y1="190.36" x2="224.56" y2="190.36" stroke="#3a2a2a" stroke-width="0.6"/>
<rect x="233.83" y="220.03" width="5.70" height="35.37" fill="#7d0a0a"/>
<line x1="236.68" y1="220.03" x2="236.68" y2="218.07" stroke="#3a2a2a" stroke-width="0.6"/>
<line x1="234.98" y1="218.07" x2="238.38" y2="218.07" stroke="#3a2a2a" stroke-width="0.6"/>
<rect x="247.65" y="245.62" width="5.70" height="9.78" fill="#7d0a0a"/>
<line x1="250.50" y1="245.62" x2="250.50" y2="244.97" stroke="#3a2a2a" stroke-width="0.6"/>
<line x1="248.80" y1="244.97" x2="252.19" y2="244.97" stroke="#3a2a2a" stroke-width="0.6"/>
<line x1="63.50" y1="156.90" x2="63.50" y2="256.00" stroke="#000" stroke-width="1.2"/>
<line x1="62.90" y1="255.40" x2="258.00" y2="255.40" stroke="#000" stroke-width="1.4"/>
<line x1="60.90" y1="255.40" x2="63.50" y2="255.40" stroke="#000" stroke-width="0.9"/>
<text x="0.00" y="0" font-size="5.4" font-weight="bold" text-anchor="end" fill="#000" transform="translate(59.2 257.4)" stroke="#000" stroke-width="0.28" stroke-linejoin="round">0</text>
<line x1="60.90" y1="239.00" x2="63.50" y2="239.00" stroke="#000" stroke-width="0.9"/>
<text x="-12.80" y="0" font-size="5.4" font-weight="bold" text-anchor="start" fill="#000" textLength="12.8" lengthAdjust="spacingAndGlyphs" transform="translate(59.2 241.0)" stroke="#000" stroke-width="0.28" stroke-linejoin="round">5000</text>
<line x1="60.90" y1="222.60" x2="63.50" y2="222.60" stroke="#000" stroke-width="0.9"/>
<text x="-16.00" y="0" font-size="5.4" font-weight="bold" text-anchor="start" fill="#000" textLength="16" lengthAdjust="spacingAndGlyphs" transform="translate(59.2 224.6)" stroke="#000" stroke-width="0.28" stroke-linejoin="round">10000</text>
<line x1="60.90" y1="206.20" x2="63.50" y2="206.20" stroke="#000" stroke-width="0.9"/>
<text x="-16.00" y="0" font-size="5.4" font-weight="bold" text-anchor="start" fill="#000" textLength="16" lengthAdjust="spacingAndGlyphs" transform="translate(59.2 208.2)" stroke="#000" stroke-width="0.28" stroke-linejoin="round">15000</text>
<line x1="60.90" y1="189.80" x2="63.50" y2="189.80" stroke="#000" stroke-width="0.9"/>
<text x="-16.00" y="0" font-size="5.4" font-weight="bold" text-anchor="start" fill="#000" textLength="16" lengthAdjust="spacingAndGlyphs" transform="translate(59.2 191.8)" stroke="#000" stroke-width="0.28" stroke-linejoin="round">20000</text>
<line x1="60.90" y1="173.40" x2="63.50" y2="173.40" stroke="#000" stroke-width="0.9"/>
<text x="-16.00" y="0" font-size="5.4" font-weight="bold" text-anchor="start" fill="#000" textLength="16" lengthAdjust="spacingAndGlyphs" transform="translate(59.2 175.4)" stroke="#000" stroke-width="0.28" stroke-linejoin="round">25000</text>
<line x1="60.90" y1="157.00" x2="63.50" y2="157.00" stroke="#000" stroke-width="0.9"/>
<text x="-16.00" y="0" font-size="5.4" font-weight="bold" text-anchor="start" fill="#000" textLength="16" lengthAdjust="spacingAndGlyphs" transform="translate(59.2 159.0)" stroke="#000" stroke-width="0.28" stroke-linejoin="round">30000</text>
<line x1="63.50" y1="255.40" x2="63.50" y2="258.20" stroke="#000" stroke-width="0.9"/>
<line x1="77.36" y1="255.40" x2="77.36" y2="258.20" stroke="#000" stroke-width="0.9"/>
<line x1="91.21" y1="255.40" x2="91.21" y2="258.20" stroke="#000" stroke-width="0.9"/>
<line x1="105.07" y1="255.40" x2="105.07" y2="258.20" stroke="#000" stroke-width="0.9"/>
<line x1="118.93" y1="255.40" x2="118.93" y2="258.20" stroke="#000" stroke-width="0.9"/>
<line x1="132.79" y1="255.40" x2="132.79" y2="258.20" stroke="#000" stroke-width="0.9"/>
<line x1="146.64" y1="255.40" x2="146.64" y2="258.20" stroke="#000" stroke-width="0.9"/>
<line x1="160.50" y1="255.40" x2="160.50" y2="258.20" stroke="#000" stroke-width="0.9"/>
<line x1="174.36" y1="255.40" x2="174.36" y2="258.20" stroke="#000" stroke-width="0.9"/>
<line x1="188.21" y1="255.40" x2="188.21" y2="258.20" stroke="#000" stroke-width="0.9"/>
<line x1="202.07" y1="255.40" x2="202.07" y2="258.20" stroke="#000" stroke-width="0.9"/>
<line x1="215.93" y1="255.40" x2="215.93" y2="258.20" stroke="#000" stroke-width="0.9"/>
<line x1="229.79" y1="255.40" x2="229.79" y2="258.20" stroke="#000" stroke-width="0.9"/>
<line x1="243.64" y1="255.40" x2="243.64" y2="258.20" stroke="#000" stroke-width="0.9"/>
<line x1="257.50" y1="255.40" x2="257.50" y2="258.20" stroke="#000" stroke-width="0.9"/>
<text x="0.00" y="0" font-size="5.8" font-weight="bold" text-anchor="end" fill="#000" transform="translate(68.93 265.4) rotate(-47)" stroke="#000" stroke-width="0.25" stroke-linejoin="round">Control</text>
<text x="0.00" y="0" font-size="5.8" font-weight="bold" text-anchor="end" fill="#000" transform="translate(82.79 265.4) rotate(-47)" stroke="#000" stroke-width="0.25" stroke-linejoin="round">75</text>
<text x="0.00" y="0" font-size="5.8" font-weight="bold" text-anchor="end" fill="#000" transform="translate(96.64 265.4) rotate(-47)" stroke="#000" stroke-width="0.25" stroke-linejoin="round">150</text>
<text x="0.00" y="0" font-size="5.8" font-weight="bold" text-anchor="end" fill="#000" transform="translate(110.5 265.4) rotate(-47)" stroke="#000" stroke-width="0.25" stroke-linejoin="round">300</text>
<text x="0.00" y="0" font-size="5.8" font-weight="bold" text-anchor="end" fill="#000" transform="translate(138.21 265.4) rotate(-47)" stroke="#000" stroke-width="0.25" stroke-linejoin="round">Control</text>
<text x="0.00" y="0" font-size="5.8" font-weight="bold" text-anchor="end" fill="#000" transform="translate(152.07 265.4) rotate(-47)" stroke="#000" stroke-width="0.25" stroke-linejoin="round">75</text>
<text x="0.00" y="0" font-size="5.8" font-weight="bold" text-anchor="end" fill="#000" transform="translate(165.93 265.4) rotate(-47)" stroke="#000" stroke-width="0.25" stroke-linejoin="round">150</text>
<text x="0.00" y="0" font-size="5.8" font-weight="bold" text-anchor="end" fill="#000" transform="translate(179.79 265.4) rotate(-47)" stroke="#000" stroke-width="0.25" stroke-linejoin="round">300</text>
<text x="0.00" y="0" font-size="5.8" font-weight="bold" text-anchor="end" fill="#000" transform="translate(207.5 265.4) rotate(-47)" stroke="#000" stroke-width="0.25" stroke-linejoin="round">Control</text>
<text x="0.00" y="0" font-size="5.8" font-weight="bold" text-anchor="end" fill="#000" transform="translate(221.36 265.4) rotate(-47)" stroke="#000" stroke-width="0.25" stroke-linejoin="round">75</text>
<text x="0.00" y="0" font-size="5.8" font-weight="bold" text-anchor="end" fill="#000" transform="translate(235.21 265.4) rotate(-47)" stroke="#000" stroke-width="0.25" stroke-linejoin="round">150</text>
<text x="0.00" y="0" font-size="5.8" font-weight="bold" text-anchor="end" fill="#000" transform="translate(249.07 265.4) rotate(-47)" stroke="#000" stroke-width="0.25" stroke-linejoin="round">300</text>
<line x1="61.20" y1="282.40" x2="113.00" y2="282.40" stroke="#000" stroke-width="1.3"/>
<line x1="130.00" y1="282.40" x2="182.50" y2="282.40" stroke="#000" stroke-width="1.3"/>
<line x1="202.50" y1="282.40" x2="255.00" y2="282.40" stroke="#000" stroke-width="1.3"/>
<text x="-8.75" y="0" font-size="5.2" font-weight="bold" text-anchor="start" fill="#000" textLength="17.5" lengthAdjust="spacingAndGlyphs" transform="translate(88 291.7)" stroke="#000" stroke-width="0.28" stroke-linejoin="round">MM.1S</text>
<text x="-10.25" y="0" font-size="5.0" font-weight="bold" text-anchor="start" fill="#000" textLength="20.5" lengthAdjust="spacingAndGlyphs" transform="translate(155.3 291.5)" stroke="#000" stroke-width="0.28" stroke-linejoin="round">BMSCs</text>
<text x="-21.00" y="0" font-size="5.0" font-weight="bold" text-anchor="start" fill="#000" textLength="42" lengthAdjust="spacingAndGlyphs" transform="translate(229 291.5)" stroke="#000" stroke-width="0.28" stroke-linejoin="round">MM.1S+BMSCs</text>
<text x="-12.50" y="0" font-size="5.0" font-weight="bold" text-anchor="start" fill="#000" textLength="25" lengthAdjust="spacingAndGlyphs" transform="translate(160 301.7)" stroke="#000" stroke-width="0.28" stroke-linejoin="round">Conc(nM)</text>
<text x="-44.35" y="0" font-size="5.6" font-weight="bold" text-anchor="start" fill="#000" textLength="88.7" lengthAdjust="spacingAndGlyphs" transform="translate(33.7 206.3) rotate(-90)" stroke="#000" stroke-width="0.28" stroke-linejoin="round"><tspan font-size="3.6" dy="-1.8">3</tspan><tspan dy="1.8">H Thymidine Incorporation</tspan></text>
<text x="-15.10" y="0" font-size="5.6" font-weight="bold" text-anchor="start" fill="#000" textLength="30.2" lengthAdjust="spacingAndGlyphs" transform="translate(39.8 201) rotate(-90)" stroke="#000" stroke-width="0.28" stroke-linejoin="round">Assay(CPM)</text>
<rect x="372.84" y="224.30" width="8.50" height="32.00" fill="#8f2228"/>
<line x1="377.09" y1="224.30" x2="377.09" y2="220.78" stroke="#222" stroke-width="0.6"/>
<line x1="375.79" y1="220.78" x2="378.39" y2="220.78" stroke="#222" stroke-width="0.6"/>
<rect x="394.41" y="172.78" width="8.50" height="83.52" fill="#8f2228"/>
<line x1="398.66" y1="172.78" x2="398.66" y2="170.54" stroke="#222" stroke-width="0.6"/>
<line x1="397.36" y1="170.54" x2="399.96" y2="170.54" stroke="#222" stroke-width="0.6"/>
<rect x="415.98" y="211.18" width="8.50" height="45.12" fill="#8f2228"/>
<line x1="420.23" y1="211.18" x2="420.23" y2="207.02" stroke="#222" stroke-width="0.6"/>
<line x1="418.93" y1="207.02" x2="421.53" y2="207.02" stroke="#222" stroke-width="0.6"/>
<rect x="459.12" y="224.30" width="8.50" height="32.00" fill="#3d793d"/>
<line x1="463.37" y1="224.30" x2="463.37" y2="222.38" stroke="#222" stroke-width="0.6"/>
<line x1="462.07" y1="222.38" x2="464.67" y2="222.38" stroke="#222" stroke-width="0.6"/>
<rect x="480.69" y="198.70" width="8.50" height="57.60" fill="#3d793d"/>
<line x1="484.94" y1="198.70" x2="484.94" y2="194.22" stroke="#222" stroke-width="0.6"/>
<line x1="483.64" y1="194.22" x2="486.24" y2="194.22" stroke="#222" stroke-width="0.6"/>
<rect x="502.26" y="220.62" width="8.50" height="35.68" fill="#3d793d"/>
<line x1="506.51" y1="220.62" x2="506.51" y2="218.38" stroke="#222" stroke-width="0.6"/>
<line x1="505.21" y1="218.38" x2="507.81" y2="218.38" stroke="#222" stroke-width="0.6"/>
<line x1="366.30" y1="159.40" x2="366.30" y2="256.90" stroke="#000" stroke-width="1.2"/>
<line x1="365.70" y1="256.10" x2="517.70" y2="256.10" stroke="#000" stroke-width="1.5"/>
<line x1="364.10" y1="256.30" x2="366.30" y2="256.30" stroke="#000" stroke-width="0.9"/>
<text x="0.00" y="0" font-size="5.8" font-weight="bold" text-anchor="end" fill="#000" transform="translate(361.4 258.7)" stroke="#000" stroke-width="0.15" stroke-linejoin="round">0</text>
<line x1="364.10" y1="240.30" x2="366.30" y2="240.30" stroke="#000" stroke-width="0.9"/>
<text x="0.00" y="0" font-size="5.8" font-weight="bold" text-anchor="end" fill="#000" transform="translate(361.4 242.7)" stroke="#000" stroke-width="0.15" stroke-linejoin="round">0.5</text>
<line x1="364.10" y1="224.30" x2="366.30" y2="224.30" stroke="#000" stroke-width="0.9"/>
<text x="0.00" y="0" font-size="5.8" font-weight="bold" text-anchor="end" fill="#000" transform="translate(361.4 226.7)" stroke="#000" stroke-width="0.15" stroke-linejoin="round">1</text>
<line x1="364.10" y1="208.30" x2="366.30" y2="208.30" stroke="#000" stroke-width="0.9"/>
<text x="0.00" y="0" font-size="5.8" font-weight="bold" text-anchor="end" fill="#000" transform="translate(361.4 210.7)" stroke="#000" stroke-width="0.15" stroke-linejoin="round">1.5</text>
<line x1="364.10" y1="192.30" x2="366.30" y2="192.30" stroke="#000" stroke-width="0.9"/>
<text x="0.00" y="0" font-size="5.8" font-weight="bold" text-anchor="end" fill="#000" transform="translate(361.4 194.7)" stroke="#000" stroke-width="0.15" stroke-linejoin="round">2</text>
<line x1="364.10" y1="176.30" x2="366.30" y2="176.30" stroke="#000" stroke-width="0.9"/>
<text x="0.00" y="0" font-size="5.8" font-weight="bold" text-anchor="end" fill="#000" transform="translate(361.4 178.7)" stroke="#000" stroke-width="0.15" stroke-linejoin="round">2.5</text>
<line x1="364.10" y1="160.30" x2="366.30" y2="160.30" stroke="#000" stroke-width="0.9"/>
<text x="0.00" y="0" font-size="5.8" font-weight="bold" text-anchor="end" fill="#000" transform="translate(361.4 162.7)" stroke="#000" stroke-width="0.15" stroke-linejoin="round">3</text>
<line x1="366.30" y1="256.30" x2="366.30" y2="258.70" stroke="#000" stroke-width="0.9"/>
<line x1="387.87" y1="256.30" x2="387.87" y2="258.70" stroke="#000" stroke-width="0.9"/>
<line x1="409.44" y1="256.30" x2="409.44" y2="258.70" stroke="#000" stroke-width="0.9"/>
<line x1="431.01" y1="256.30" x2="431.01" y2="258.70" stroke="#000" stroke-width="0.9"/>
<line x1="452.59" y1="256.30" x2="452.59" y2="258.70" stroke="#000" stroke-width="0.9"/>
<line x1="474.16" y1="256.30" x2="474.16" y2="258.70" stroke="#000" stroke-width="0.9"/>
<line x1="495.73" y1="256.30" x2="495.73" y2="258.70" stroke="#000" stroke-width="0.9"/>
<line x1="517.30" y1="256.30" x2="517.30" y2="258.70" stroke="#000" stroke-width="0.9"/>
<text x="0.00" y="0" font-size="6.8" font-weight="bold" text-anchor="end" fill="#000" transform="translate(379.2 267.3) rotate(-47.5)" stroke="#000" stroke-width="0.2" stroke-linejoin="round">Serum free</text>
<text x="0.00" y="0" font-size="6.8" font-weight="bold" text-anchor="end" fill="#000" transform="translate(396.2 269.7) rotate(-47.5)" stroke="#000" stroke-width="0.2" stroke-linejoin="round">10%</text>
<text x="0.00" y="0" font-size="6.8" font-weight="bold" text-anchor="end" fill="#000" transform="translate(422.4 266.6) rotate(-47.5)" stroke="#000" stroke-width="0.2" stroke-linejoin="round">b-AP15</text>
<text x="0.00" y="0" font-size="6.8" font-weight="bold" text-anchor="end" fill="#000" transform="translate(465.6 267.3) rotate(-47.5)" stroke="#000" stroke-width="0.2" stroke-linejoin="round">Control</text>
<text x="0.00" y="0" font-size="6.8" font-weight="bold" text-anchor="end" fill="#000" transform="translate(486.4 268.1) rotate(-47.5)" stroke="#000" stroke-width="0.2" stroke-linejoin="round">SDF-1</text>
<text x="0.00" y="0" font-size="6.8" font-weight="bold" text-anchor="end" fill="#000" transform="translate(508.7 267.3) rotate(-47.5)" stroke="#000" stroke-width="0.2" stroke-linejoin="round">b-AP15</text>
<text x="-40.00" y="0" font-size="6.2" font-weight="bold" text-anchor="start" fill="#000" textLength="80" lengthAdjust="spacingAndGlyphs" transform="translate(346.3 208) rotate(-90)" stroke="#000" stroke-width="0.12" stroke-linejoin="round">Ratio of Migration Cells</text>
</svg>
</body></html>
